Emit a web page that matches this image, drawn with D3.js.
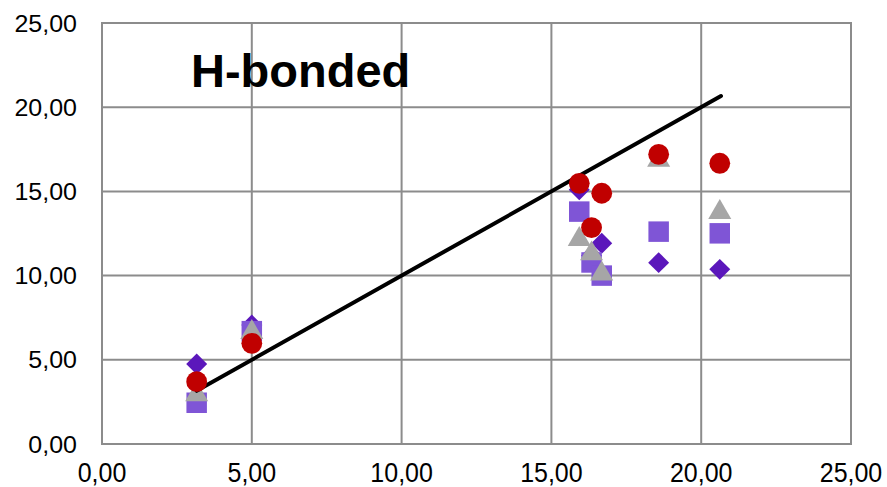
<!DOCTYPE html>
<html>
<head>
<meta charset="utf-8">
<script src="https://cdn.jsdelivr.net/npm/d3@7"></script>
<style>
    body { margin: 0; background: #fff; }
    svg text { font-family: "Liberation Sans", Arial, sans-serif; fill: #000; }
</style>
</head>
<body>
<div id="vis"></div>
<script>
// values
const xValues = [3.16, 5.00, 15.93, 16.34, 16.68, 18.58, 20.62];
const diamondValues = [4.75, 7.07, 15.10, 11.20, 11.92, 10.77, 10.37];
const squareValues = [2.45, 6.70, 13.80, 10.78, 10.00, 12.61, 12.51];
const triangleValues = [3.05, 6.75, 12.27, 11.42, 10.23, 16.98, 13.87];
const circleValues = [3.70, 5.98, 15.48, 12.85, 14.89, 17.20, 16.67];
const lineX = [3.16, 20.66];
const xTicks = [0, 5, 10, 15, 20, 25];
const yTicks = [0, 5, 10, 15, 20, 25];
const title = "H-bonded";

function vis() {
    const width = 887;
    const height = 487;
    const margin = { left: 102, top: 23, right: 36, bottom: 43 };

    const fmt = d => d3.format(".2f")(d).replace(".", ",");

    const svg = d3.select("#vis")
        .append("svg")
        .attr("width", width)
        .attr("height", height)
        .attr("viewBox", `0 0 ${width} ${height}`);

    const xScale = d3.scaleLinear()
        .domain([0, 25])
        .range([margin.left, width - margin.right]);

    const yScale = d3.scaleLinear()
        .domain([0, 25])
        .range([height - margin.bottom, margin.top]);

    const grid = svg.append("g").attr("class", "grid");

    grid.selectAll(".vgrid")
        .data(xTicks)
        .join("line")
            .attr("class", "vgrid")
            .attr("stroke", "#8c8c8c")
            .attr("stroke-width", 2)
            .attr("x1", d => xScale(d))
            .attr("x2", d => xScale(d))
            .attr("y1", yScale(25))
            .attr("y2", yScale(0));

    grid.selectAll(".hgrid")
        .data(yTicks)
        .join("line")
            .attr("class", "hgrid")
            .attr("stroke", "#8c8c8c")
            .attr("stroke-width", 2)
            .attr("x1", xScale(0) - 1)
            .attr("x2", xScale(25) + 1)
            .attr("y1", d => yScale(d))
            .attr("y2", d => yScale(d));

    svg.selectAll(".y-label")
        .data(yTicks)
        .join("text")
            .attr("class", "y-label")
            .attr("text-anchor", "end")
            .style("font-size", "25px")
            .attr("transform", d => `translate(77, ${yScale(d) + 8.5}) scale(1, 0.95)`)
            .text(d => fmt(d));

    svg.selectAll(".x-label")
        .data(xTicks)
        .join("text")
            .attr("class", "x-label")
            .attr("text-anchor", "middle")
            .style("font-size", "25px")
            .attr("transform", d => `translate(${xScale(d)}, 482) scale(1, 1.08)`)
            .text(d => fmt(d));

    svg.append("text")
        .attr("x", 191)
        .attr("y", 87)
        .style("font-size", "47px")
        .style("font-weight", 700)
        .text(title);

    const points = xValues.map((x, i) => ({
        x: x,
        diamond: diamondValues[i],
        square: squareValues[i],
        triangle: triangleValues[i],
        circle: circleValues[i]
    }));

    const series = [
        { key: "diamond", symbol: d3.symbolSquare, size: 220, rotate: 45, color: "#5b17bb" },
        { key: "square", symbol: d3.symbolSquare, size: 420, rotate: 0, color: "#7f55d6" },
        { key: "triangle", symbol: d3.symbolTriangle, size: 230, rotate: 0, color: "#a6a6a6" },
        { key: "circle", symbol: d3.symbolCircle, size: 340, rotate: 0, color: "#c00000" }
    ];

    series.forEach(s => {
        svg.selectAll(`.m-${s.key}`)
            .data(points)
            .join("path")
                .attr("class", `m-${s.key}`)
                .attr("d", d3.symbol().type(s.symbol).size(s.size))
                .attr("fill", s.color)
                .attr("transform", d => {
                    let cy = yScale(d[s.key]);
                    if (s.key === "triangle") cy += 2;
                    return `translate(${xScale(d.x)}, ${cy}) rotate(${s.rotate})`;
                });

        // the black line sits above the triangles and below the circles
        if (s.key === "triangle") {
            svg.append("path")
                .datum(lineX)
                .attr("fill", "none")
                .attr("stroke", "#000")
                .attr("stroke-width", 4)
                .attr("stroke-linecap", "round")
                .attr("d", d3.line().x(d => xScale(d)).y(d => yScale(d)));
        }
    });
}

vis();
</script>
</body>
</html>
